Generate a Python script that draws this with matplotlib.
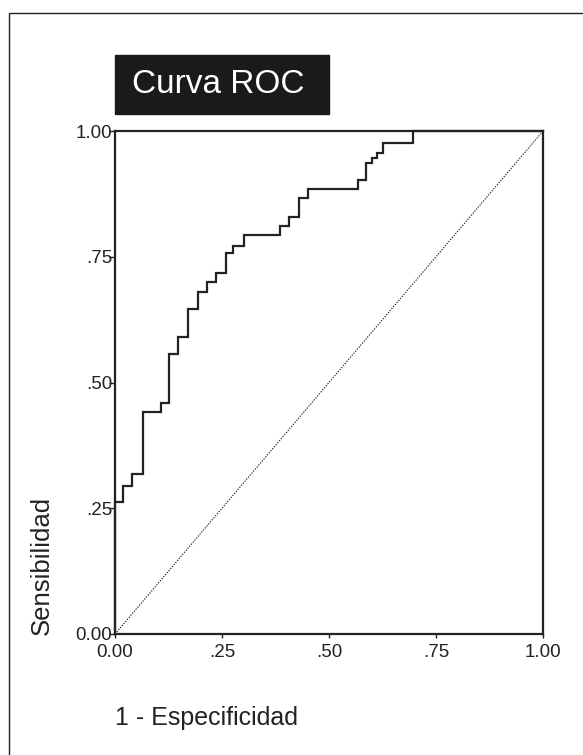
import matplotlib
matplotlib.use("Agg")
import matplotlib.pyplot as plt
from matplotlib.patches import Rectangle

plt.rcParams['font.family'] = ['Liberation Sans', 'DejaVu Sans']

# ROC curve corner points (1 - especificidad, sensibilidad)
fpr = [0.0, 0.019, 0.040, 0.065, 0.107, 0.126, 0.147, 0.171, 0.194, 0.215,
       0.236, 0.259, 0.276, 0.301, 0.386, 0.407, 0.430, 0.451, 0.568, 0.586,
       0.600, 0.612, 0.626, 0.696, 1.0]
tpr = [0.0, 0.262, 0.294, 0.318, 0.441, 0.459, 0.557, 0.590, 0.646, 0.680,
       0.700, 0.718, 0.757, 0.771, 0.793, 0.811, 0.829, 0.867, 0.885, 0.903,
       0.936, 0.946, 0.956, 0.976, 1.0]
ref_line = [0.0, 1.0]

tick_values = [0.0, 0.25, 0.5, 0.75, 1.0]
tick_labels = ['0.00', '.25', '.50', '.75', '1.00']

title = 'Curva ROC'
xlabel = '1 - Especificidad'
ylabel = 'Sensibilidad'

W, H = 583, 755
fig = plt.figure(figsize=(W / 100, H / 100), dpi=100)
line_col = '#222222'

# outer frame of the SPSS chart, runs off the right and bottom edges
fig.patches.append(Rectangle((9 / W, -0.05), 1.0, 1 - 13 / H + 0.05,
                             transform=fig.transFigure, fill=False,
                             edgecolor=line_col, linewidth=1.0))

ax = fig.add_axes([115 / W, 1 - 634 / H, 428 / W, 503 / H])
ax.plot(fpr, tpr, drawstyle='steps-pre', color=line_col, linewidth=1.6,
        solid_joinstyle='miter', clip_on=False)
ax.plot(ref_line, ref_line, color=line_col, linewidth=0.8,
        linestyle=(0, (1.2, 1.2)))

ax.set_xlim(0, 1)
ax.set_ylim(0, 1)
ax.set_xticks(tick_values)
ax.set_yticks(tick_values)
ax.set_xticklabels(tick_labels)
ax.set_yticklabels(tick_labels)
ax.tick_params(direction='out', width=1.0, labelsize=13.5, colors=line_col)
ax.tick_params(axis='x', length=3, pad=4)
ax.tick_params(axis='y', length=4, pad=-2)
for sp in ax.spines.values():
    sp.set_linewidth(1.6)
    sp.set_color(line_col)

# title in a black box
fig.patches.append(Rectangle((115 / W, 1 - 114 / H), 214 / W, 59 / H,
                             transform=fig.transFigure, facecolor='#1a1a1a',
                             edgecolor='#1a1a1a'))
fig.text(132 / W, 1 - 93 / H, title, color='white', fontsize=24,
         ha='left', va='baseline')

fig.text(115 / W, 1 - 725 / H, xlabel, color=line_col, fontsize=18,
         ha='left', va='baseline')
fig.text(42 / W, 1 - 565 / H, ylabel, color=line_col, fontsize=18.5,
         rotation=90, ha='center', va='center')

fig.savefig('out.png', dpi=100)
